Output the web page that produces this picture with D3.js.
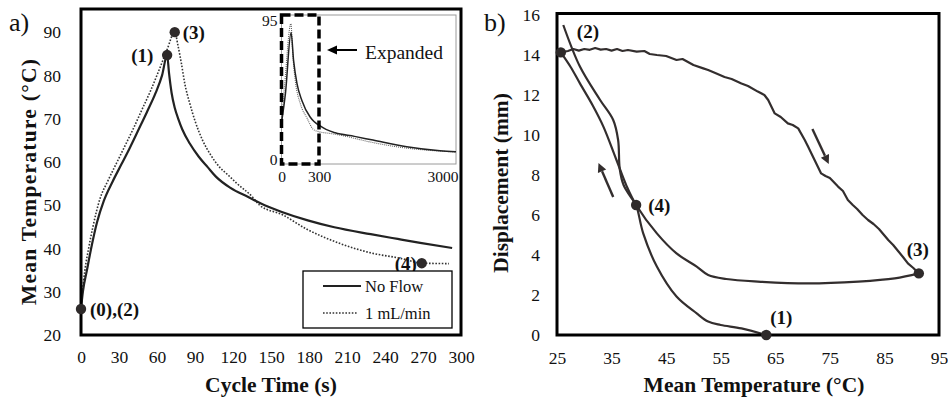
<!DOCTYPE html>
<html>
<head>
<meta charset="utf-8">
<script src="https://cdn.jsdelivr.net/npm/d3@7"></script>
<style>
  html, body { margin: 0; padding: 0; background: #fff; }
  svg { display: block; font-family: "Liberation Serif", "Times New Roman", serif; }
  svg text { font-family: "Liberation Serif", "Times New Roman", serif; }
</style>
</head>
<body>
<svg id="chart" width="948" height="400"></svg>
<script>
// ---- Panel a) mean temperature over one cycle ----
const noFlowTime = [0, 1.5, 4.7, 8, 12.6, 18, 25, 32, 38.6, 45, 52, 59, 64, 68, 69.5, 71.5, 74, 77, 80, 86, 93, 100, 106.5, 118, 132, 145, 158, 179, 200, 228.7, 250, 267.8, 293];
const noFlowTemp = [26, 30, 35, 40, 46, 51, 55.5, 59.5, 63.3, 67.2, 71.5, 76, 80, 84.7, 80.5, 76, 72.5, 69.8, 67.5, 64.2, 61.2, 58.8, 56.6, 54, 51.9, 50, 48.5, 46.5, 44.9, 43.3, 42.2, 41.3, 40.1];

const flowTime = [0, 1, 3.1, 6, 9.4, 15, 21, 28, 34, 41, 48, 55, 62, 68, 74, 76.5, 79.3, 82, 85.8, 90, 96, 102, 109.4, 116, 122.8, 135.4, 141, 159, 178, 204, 230, 251, 270, 290.5];
const flowTemp = [26, 29.5, 35, 40, 45, 51.5, 55.5, 59.7, 63.3, 67.5, 72, 76.5, 81.5, 86, 90, 87, 82.7, 78, 73.6, 69.5, 65, 61.8, 58.8, 57, 55.1, 51.9, 50, 47.8, 44.5, 41.2, 38.9, 37.8, 36.6, 36.5];

// labelled states on panel a)
const stateLabelsA = ["(0),(2)", "(1)", "(3)", "(4)"];
const stateTimeA = [0, 68, 74, 269];
const stateTempA = [26, 84.7, 90, 36.6];

const tickTimeA = [0, 30, 60, 90, 120, 150, 180, 210, 240, 270, 300];
const tickTempA = [20, 30, 40, 50, 60, 70, 80, 90];

// full-length run shown in the inset
const insetNoFlowTime = [0, 31.6, 76.6, 97, 124, 163, 229, 260, 300, 438, 620, 1000, 1364, 2028, 2685, 3000];
const insetNoFlowTemp = [26, 45, 84.3, 66, 51.3, 40.4, 29.7, 26.8, 24.4, 21.7, 19.5, 17.2, 14.8, 10.5, 7.9, 7.3];
const insetFlowTime = [0, 27.6, 75, 91, 110, 150, 205, 253, 300, 500, 714, 1364, 2028, 2685, 3000];
const insetFlowTemp = [26, 53, 90, 69.3, 53.3, 38.5, 28.9, 21.8, 20.2, 19.2, 18, 13.2, 9.6, 7.7, 7.1];
const insetTickTime = [0, 300, 3000];
const insetTickTemp = [0, 95];

const seriesNames = ["No Flow", "1 mL/min"];

// ---- Panel b) displacement vs. mean temperature ----
// heating branch across the top, (2) -> (3)
const topTemp = [25.7, 27, 28, 29, 30, 31, 32, 33, 34, 35, 36, 37, 38, 39.6, 41, 42, 43.3, 45, 46.9, 48, 50, 51.8, 52.7, 54, 55.7, 57, 58.8, 60, 61.8, 63, 63.7, 64.9, 66, 67.3, 68.2, 69.2, 70.4, 71, 72.2, 73.4, 74.2, 75, 76.5, 77.4, 78.3, 79.2, 80, 81, 82, 83, 84, 85.7, 86.6, 87.5, 88.4, 89.3, 90.3, 91.3];
const topDisp = [14.13, 14.2, 14.3, 14.22, 14.3, 14.26, 14.35, 14.27, 14.3, 14.22, 14.3, 14.2, 14.25, 14.17, 14.2, 14.05, 14.0, 13.95, 13.75, 13.8, 13.5, 13.33, 13.25, 13.1, 12.9, 12.8, 12.58, 12.45, 12.17, 12.0, 11.75, 11.08, 10.9, 10.58, 10.5, 10.33, 9.75, 9.42, 8.75, 8.08, 7.95, 7.85, 7.42, 7.2, 6.75, 6.5, 6.3, 6.0, 5.75, 5.55, 5.3, 4.75, 4.5, 4.2, 3.9, 3.58, 3.35, 3.08];

// cooling branch (3) -> (4) -> back up to the start point
const returnTemp = [91.3, 86.9, 80.2, 71, 61.8, 56, 52.7, 50.6, 46.9, 43.3, 39.5, 37.8, 35.9, 33.5, 31.5, 29.2, 27.5, 25.7];
const returnDisp = [3.08, 2.83, 2.67, 2.58, 2.67, 2.8, 3.0, 3.42, 4.08, 5.08, 6.5, 7.42, 8.75, 10.42, 11.5, 12.58, 13.4, 14.13];

// branch from (1) through (4) up to the top end
const lowTemp = [63.35, 58.8, 55, 52.7, 50.6, 46.9, 43.3, 40.8, 39.5, 38.9, 37.2, 36.5, 36.2, 35.3, 32.9, 29.2, 26.15];
const lowDisp = [0, 0.33, 0.5, 0.67, 1.08, 1.92, 3.42, 5.08, 6.5, 6.75, 7.5, 8.3, 9.75, 10.75, 11.75, 13.42, 15.5];

const stateLabelsB = ["(2)", "(1)", "(3)", "(4)"];
const stateTempB = [25.7, 63.35, 91.3, 39.5];
const stateDispB = [14.13, 0, 3.08, 6.5];

const tickTempB = [25, 35, 45, 55, 65, 75, 85, 95];
const tickDispB = [0, 2, 4, 6, 8, 10, 12, 14, 16];

// ------------------------------------------------------------
const svg = d3.select("#chart");
const serif = "'Liberation Serif', 'Times New Roman', serif";
const ink = "#222";
const markInk = "#2e2a2a";
const zip = (a, b) => a.map((v, i) => [v, b[i]]);

function frame(g, x, y) {
  const [x0, x1] = x.range();
  const [y0, y1] = y.range();
  g.append("rect")
    .attr("x", x0).attr("y", y1 - 1.5)
    .attr("width", x1 - x0).attr("height", y0 - y1 + 1.5)
    .attr("fill", "none").attr("stroke", "#000").attr("stroke-width", 3);
}

function styleAxis(g, size) {
  g.attr("font-family", null).attr("font-size", null);
  g.select(".domain").remove();
  g.selectAll("text")
    .style("font-family", serif)
    .style("font-size", size + "px")
    .attr("fill", "#111");
}

// ===== Panel a) =====
const xA = d3.scaleLinear().domain([0, 300]).range([81, 461]);
const yA = d3.scaleLinear().domain([20, 95]).range([335, 10.5]);
const gA = svg.append("g");

gA.append("g")
  .attr("transform", `translate(0,${yA(20)})`)
  .call(d3.axisBottom(xA).tickValues(tickTimeA).tickSize(0).tickPadding(16))
  .call(g => styleAxis(g, 17.5));
gA.append("g")
  .attr("transform", `translate(${xA(0)},0)`)
  .call(d3.axisLeft(yA).tickValues(tickTempA).tickSize(0).tickPadding(20))
  .call(g => styleAxis(g, 17.5));

const lineA = d3.line().x(d => xA(d[0])).y(d => yA(d[1])).curve(d3.curveMonotoneX);

gA.append("path")
  .datum(zip(flowTime, flowTemp))
  .attr("d", lineA)
  .attr("fill", "none").attr("stroke", "#333").attr("stroke-width", 1.6)
  .attr("stroke-dasharray", "1.6,1.6");
gA.append("path")
  .datum(zip(noFlowTime, noFlowTemp))
  .attr("d", lineA)
  .attr("fill", "none").attr("stroke", ink).attr("stroke-width", 2.2);

frame(gA, xA, yA);

// state markers
gA.selectAll("circle.state")
  .data(stateLabelsA.map((l, i) => ({ l, t: stateTimeA[i], v: stateTempA[i] })))
  .join("circle")
  .attr("class", "state")
  .attr("cx", d => xA(d.t)).attr("cy", d => yA(d.v)).attr("r", 5.2)
  .attr("fill", markInk);

const labelOffA = [[9, 7], [-36, 7], [8, 7], [-27, 7]];
gA.selectAll("text.state")
  .data(stateLabelsA.map((l, i) => ({ l, t: stateTimeA[i], v: stateTempA[i], o: labelOffA[i] })))
  .join("text")
  .attr("class", "state")
  .attr("x", d => xA(d.t) + d.o[0]).attr("y", d => yA(d.v) + d.o[1])
  .attr("font-size", 19).attr("font-weight", "bold").attr("fill", "#111")
  .text(d => d.l);

// legend
const legA = gA.append("g");
legA.append("rect")
  .attr("x", 303).attr("y", 271).attr("width", 149).attr("height", 57)
  .attr("fill", "#fff").attr("stroke", "#000").attr("stroke-width", 1.3);
legA.append("line")
  .attr("x1", 323).attr("x2", 361).attr("y1", 286).attr("y2", 286)
  .attr("stroke", ink).attr("stroke-width", 2.2);
legA.append("line")
  .attr("x1", 323).attr("x2", 358).attr("y1", 313).attr("y2", 313)
  .attr("stroke", "#333").attr("stroke-width", 1.6).attr("stroke-dasharray", "1.6,1.6");
legA.selectAll("text")
  .data(seriesNames)
  .join("text")
  .attr("x", 365).attr("y", (d, i) => 292 + i * 27)
  .attr("font-size", 16.5).attr("fill", "#111")
  .text(d => d);

// panel tag and titles
svg.append("text").attr("x", 9).attr("y", 31).attr("font-size", 26).attr("fill", "#111").text("a)");
svg.append("text")
  .attr("x", 271).attr("y", 392).attr("text-anchor", "middle")
  .attr("font-size", 21.5).attr("font-weight", "bold").attr("fill", "#111")
  .text("Cycle Time (s)");
svg.append("text")
  .attr("transform", "translate(36,182) rotate(-90)").attr("text-anchor", "middle")
  .attr("font-size", 21.5).attr("font-weight", "bold").attr("fill", "#111")
  .attr("textLength", 246).attr("lengthAdjust", "spacing")
  .text("Mean Temperature (°C)");

// ===== Inset: full run =====
const xI = d3.scaleLinear().domain([0, 300, 3000]).range([281.5, 319, 456]);
const yI = d3.scaleLinear().domain([0, 95]).range([163, 16]);
const gI = svg.append("g");

gI.append("rect")
  .attr("x", 281.5).attr("y", 15).attr("width", 174.5).attr("height", 149)
  .attr("fill", "#fff").attr("stroke", "#9a9a9a").attr("stroke-width", 1);

const lineI = d3.line().x(d => xI(d[0])).y(d => yI(d[1])).curve(d3.curveMonotoneX);
gI.append("path")
  .datum(zip(insetFlowTime, insetFlowTemp))
  .attr("d", lineI)
  .attr("fill", "none").attr("stroke", "#666").attr("stroke-width", 1.1)
  .attr("stroke-dasharray", "1,1");
gI.append("path")
  .datum(zip(insetNoFlowTime, insetNoFlowTemp))
  .attr("d", lineI)
  .attr("fill", "none").attr("stroke", ink).attr("stroke-width", 1.5);

// dashed box around the expanded window
gI.append("rect")
  .attr("x", xI(0)).attr("y", 15)
  .attr("width", xI(300) - xI(0)).attr("height", 149)
  .attr("fill", "none").attr("stroke", "#000").attr("stroke-width", 3.5)
  .attr("stroke-dasharray", "9,4");

const insetX = gI.append("g")
  .attr("transform", `translate(0,171)`)
  .call(d3.axisBottom(xI).tickValues(insetTickTime).tickSize(0).tickPadding(0).tickFormat(d3.format("d")))
  .call(g => styleAxis(g, 15.5));
insetX.selectAll("text").filter(d => d === 3000).attr("text-anchor", "end").attr("dx", 2);
const insetY = gI.append("g")
  .attr("transform", `translate(${xI(0) - 4},0)`)
  .call(d3.axisLeft(yI).tickValues(insetTickTemp).tickSize(0).tickPadding(0))
  .call(g => styleAxis(g, 15.5));
insetY.selectAll("text").filter(d => d === 95).attr("dy", "0.6em");
insetY.selectAll("text").filter(d => d === 0).attr("dy", "0.1em");

// "Expanded" pointer
gI.append("line")
  .attr("x1", 336).attr("x2", 357).attr("y1", 50).attr("y2", 50)
  .attr("stroke", "#000").attr("stroke-width", 2);
gI.append("path")
  .attr("d", "M327,50 L337,45.5 L337,54.5 Z").attr("fill", "#000");
gI.append("text")
  .attr("x", 365).attr("y", 59)
  .attr("font-size", 19.5).attr("fill", "#111")
  .text("Expanded");

// ===== Panel b) =====
const xB = d3.scaleLinear().domain([25, 95]).range([557, 939]);
const yB = d3.scaleLinear().domain([0, 16]).range([335, 15]);
const gB = svg.append("g");

gB.append("g")
  .attr("transform", `translate(0,${yB(0)})`)
  .call(d3.axisBottom(xB).tickValues(tickTempB).tickSize(0).tickPadding(17))
  .call(g => styleAxis(g, 17.5));
gB.append("g")
  .attr("transform", `translate(${xB(25)},0)`)
  .call(d3.axisLeft(yB).tickValues(tickDispB).tickSize(0).tickPadding(17))
  .call(g => styleAxis(g, 17.5));

const lineTop = d3.line().x(d => xB(d[0])).y(d => yB(d[1]));
const lineSmooth = d3.line().x(d => xB(d[0])).y(d => yB(d[1])).curve(d3.curveCatmullRom.alpha(0.5));
const traceInk = "#332e2e";
gB.append("path")
  .datum(zip(topTemp, topDisp))
  .attr("d", lineTop)
  .attr("fill", "none").attr("stroke", traceInk).attr("stroke-width", 2.2)
  .attr("stroke-linejoin", "round");
[[returnTemp, returnDisp], [lowTemp, lowDisp]].forEach(([t, d]) => {
  gB.append("path")
    .datum(zip(t, d))
    .attr("d", lineSmooth)
    .attr("fill", "none").attr("stroke", traceInk).attr("stroke-width", 2.2)
    .attr("stroke-linejoin", "round");
});

// direction arrows
function arrow(g, x1, y1, x2, y2) {
  const a = Math.atan2(y2 - y1, x2 - x1);
  const L = 9, W = 4.5;
  const bx = x2 - L * Math.cos(a), by = y2 - L * Math.sin(a);
  g.append("line").attr("x1", x1).attr("y1", y1).attr("x2", bx).attr("y2", by)
    .attr("stroke", traceInk).attr("stroke-width", 2.4);
  g.append("path")
    .attr("d", `M${x2},${y2} L${bx + W * Math.sin(a)},${by - W * Math.cos(a)} L${bx - W * Math.sin(a)},${by + W * Math.cos(a)} Z`)
    .attr("fill", traceInk);
}
arrow(gB, xB(35.3), yB(6.9), xB(32.6), yB(8.6));
arrow(gB, xB(71.8), yB(10.3), xB(74.8), yB(8.55));

frame(gB, xB, yB);

gB.selectAll("circle.state")
  .data(stateLabelsB.map((l, i) => ({ l, t: stateTempB[i], v: stateDispB[i] })))
  .join("circle")
  .attr("class", "state")
  .attr("cx", d => xB(d.t)).attr("cy", d => yB(d.v)).attr("r", 5.2)
  .attr("fill", markInk);

const labelOffB = [[16, -14], [4, -11], [-12, -17], [12, 7]];
gB.selectAll("text.state")
  .data(stateLabelsB.map((l, i) => ({ l, t: stateTempB[i], v: stateDispB[i], o: labelOffB[i] })))
  .join("text")
  .attr("class", "state")
  .attr("x", d => xB(d.t) + d.o[0]).attr("y", d => yB(d.v) + d.o[1])
  .attr("font-size", 19).attr("font-weight", "bold").attr("fill", "#111")
  .text(d => d.l);

svg.append("text").attr("x", 484).attr("y", 31).attr("font-size", 26).attr("fill", "#111").text("b)");
svg.append("text")
  .attr("x", 754).attr("y", 392).attr("text-anchor", "middle")
  .attr("font-size", 21.5).attr("font-weight", "bold").attr("fill", "#111")
  .text("Mean Temperature (°C)");
svg.append("text")
  .attr("transform", "translate(508,183) rotate(-90)").attr("text-anchor", "middle")
  .attr("font-size", 21.5).attr("font-weight", "bold").attr("fill", "#111")
  .text("Displacement (mm)");
</script>
</body>
</html>
